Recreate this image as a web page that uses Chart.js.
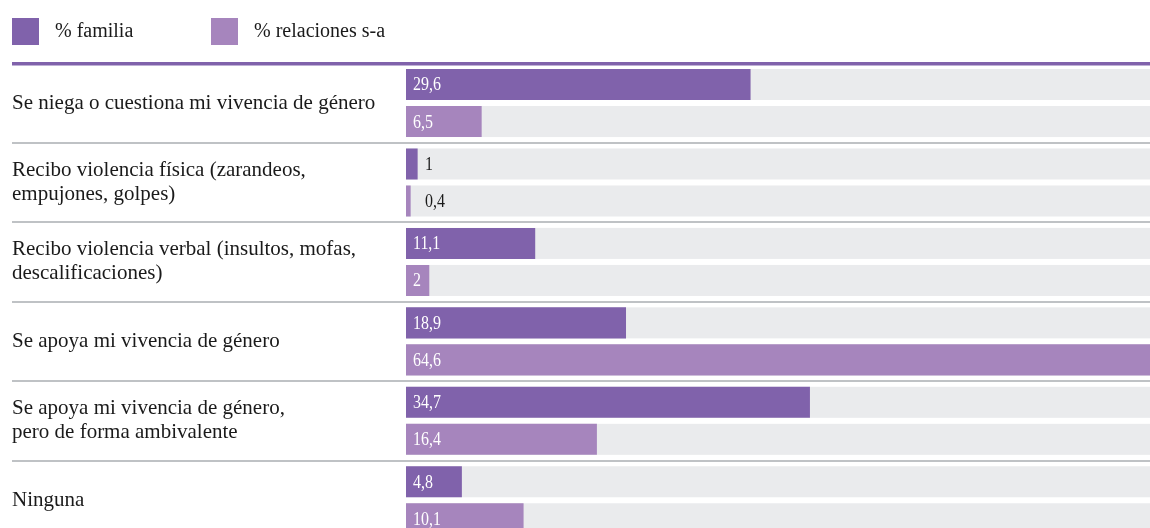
<!DOCTYPE html>
<html lang="es">
<head>
<meta charset="utf-8">
<title>Reacciones ante la vivencia de género</title>
<script src="https://cdn.jsdelivr.net/npm/chart.js@4/dist/chart.umd.min.js"></script>
<style>
  html, body { margin: 0; padding: 0; background: #fff; overflow: hidden; }
  #chart { position: absolute; left: 0; top: 0; }
</style>
</head>
<body>
<!-- canvas runs past the window on the right and bottom, like the printed chart -->
<canvas id="chart" width="1158" height="552"></canvas>
<script>

// Data
const categories = [
  'Se niega o cuestiona mi vivencia de género',
  ['Recibo violencia física (zarandeos,', 'empujones, golpes)'],
  ['Recibo violencia verbal (insultos, mofas,', 'descalificaciones)'],
  'Se apoya mi vivencia de género',
  ['Se apoya mi vivencia de género,', 'pero de forma ambivalente'],
  'Ninguna'
];
const seriesNames = ['% familia', '% relaciones s-a'];
const familia = [29.6, 1, 11.1, 18.9, 34.7, 4.8];
const relaciones = [6.5, 0.4, 2, 64.6, 16.4, 10.1];

const PURPLE = '#8062ab';
const LILAC = '#a685bd';
const TRACK = '#eaebed';
const RULE = '#bfc2c5';
const INK = '#1a1a1a';
const SERIF = '"Liberation Serif", "Times New Roman", serif';


function formatValue(v) {
  return String(v).replace('.', ',');
}


// Grey track behind every bar, full width of the plot
const trackPlugin = {
  id: 'tracks',
  beforeDatasetsDraw(chart) {
    const { ctx, chartArea } = chart;
    ctx.save();
    ctx.fillStyle = TRACK;
    chart.data.datasets.forEach((ds, i) => {
      chart.getDatasetMeta(i).data.forEach((bar) => {
        ctx.fillRect(chartArea.left, bar.y - bar.height / 2,
          chartArea.right - chartArea.left, bar.height);
      });
    });
    ctx.restore();
  },
};


// Values written at the start of each bar (outside when the bar is too thin)
const valuePlugin = {
  id: 'values',
  afterDatasetsDraw(chart) {
    const { ctx } = chart;
    ctx.save();
    ctx.font = '19px ' + SERIF;
    ctx.textBaseline = 'middle';
    ctx.textAlign = 'left';
    chart.data.datasets.forEach((ds, i) => {
      chart.getDatasetMeta(i).data.forEach((bar, j) => {
        const width = bar.x - bar.base;
        const inside = width > 20;
        const x = inside ? bar.base + 7 : bar.base + 19;
        ctx.fillStyle = inside ? '#ffffff' : INK;
        ctx.save();
        ctx.translate(x, bar.y + 1);
        ctx.scale(0.84, 1);
        ctx.fillText(formatValue(ds.data[j]), 0, 0);
        ctx.restore();
      });
    });
    ctx.restore();
  },
};


// Legend row above the top rule
const legendPlugin = {
  id: 'legendRow',
  afterDraw(chart) {
    const { ctx } = chart;
    ctx.save();
    ctx.font = '20px ' + SERIF;
    ctx.textBaseline = 'middle';
    chart.data.datasets.forEach((ds, i) => {
      const x = 12 + i * 199;
      ctx.fillStyle = ds.backgroundColor;
      ctx.fillRect(x, 18, 27, 27);
      ctx.fillStyle = INK;
      ctx.fillText(ds.label, x + 43, 32);
    });
    ctx.restore();
  },
};


const chart = new Chart(document.getElementById('chart'), {
  type: 'bar',
  data: {
    labels: categories,
    datasets: [
      { label: seriesNames[0], data: familia, backgroundColor: PURPLE },
      { label: seriesNames[1], data: relaciones, backgroundColor: LILAC },
    ],
  },
  options: {
    indexAxis: 'y',
    responsive: false,
    animation: false,
    devicePixelRatio: 1,
    categoryPercentage: 0.932,
    barPercentage: 0.838,
    layout: {
      padding: { top: 63.3, left: 12, right: 0, bottom: 0 },
    },
    plugins: {
      legend: { display: false },
      tooltip: { enabled: false },
    },
    scales: {
      x: {
        display: false,
        min: 0,
        max: 64.6,
      },
      y: {
        afterFit(scale) { scale.width = 394; },
        border: { display: false },
        grid: {
          offset: true,
          drawOnChartArea: true,
          tickLength: 394,
          // first boundary is the purple rule under the legend
          color: (c) => (c.index === 0 ? PURPLE : RULE),
          lineWidth: (c) => (c.index === 0 ? 3.5 : 2),
        },
        ticks: {
          crossAlign: 'far',
          color: INK,
          padding: 0,
          font: { family: SERIF, size: 21, lineHeight: 24 / 21 },
        },
      },
    },
  },
  plugins: [trackPlugin, valuePlugin, legendPlugin],
});

</script>
</body>
</html>
